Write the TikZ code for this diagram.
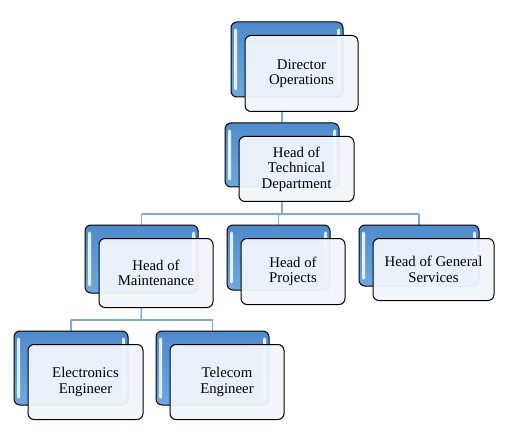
\documentclass[tikz,border=0pt]{standalone}
\usepackage{fontspec}
\setmainfont{Liberation Serif}
\usetikzlibrary{calc}
\definecolor{bluetop}{HTML}{4F8BCB}
\definecolor{bluebot}{HTML}{6FA8DF}
\definecolor{hlcol}{HTML}{E2EFFC}
\definecolor{wfill}{HTML}{F1F5FB}
\definecolor{conncol}{HTML}{7BAADD}
\pgfdeclarelayer{background}
\pgfsetlayers{background,main}
\tikzset{
  bluebox/.style={rectangle, rounded corners=6pt, draw=black, line width=1pt,
    top color=bluetop, bottom color=bluebot, inner sep=0pt},
  whitebox/.style={rectangle, rounded corners=6pt, draw=black, line width=1pt,
    fill=wfill, fill opacity=0.95, text opacity=1, inner sep=0pt, align=center,
    font=\fontsize{14.8}{15.5}\selectfont},
  hl/.style={fill=hlcol, rounded corners=1.5pt},
  conn/.style={draw=conncol, line width=1.5pt}
}
\newcommand{\orgunit}[6]{%
  \node[bluebox, minimum width={(#4-#2)*1pt}, minimum height={(#5-#3)*1pt}] (#1B) at ({(#2+#4)/2},{(#3+#5)/2}) {};
  \fill[hl] ([xshift=3.5pt,yshift=-7pt]#1B.north west) rectangle ([xshift=6.5pt,yshift=7pt]#1B.south west);
  \fill[hl] ([xshift=-6.5pt,yshift=-7pt]#1B.north east) rectangle ([xshift=-3.5pt,yshift=7pt]#1B.south east);
  \node[whitebox, minimum width={(#4-#2+1)*1pt}, minimum height={(#5-#3+1)*1pt}] (#1) at ({(#2+#4)/2+14.5},{(#3+#5)/2+14}) {#6};
}
\begin{document}
\begin{tikzpicture}[x=1pt,y=-1pt]
\useasboundingbox (0,0) rectangle (507,444);
\orgunit{dir}{231}{22}{343}{97}{Director\\Operations}
\orgunit{tech}{225}{123}{339}{187}{Head of\\Technical\\Department}
\orgunit{maint}{85}{225}{198}{293}{Head of\\Maintenance}
\orgunit{proj}{227}{225}{330}{290}{Head of\\Projects}
\orgunit{gen}{359}{225}{479}{286}{Head of General\\Services}
\orgunit{elec}{14}{331}{128}{405}{Electronics\\Engineer}
\orgunit{tel}{156}{331}{269}{405}{Telecom\\Engineer}
\coordinate (bus1) at (282,214);
\coordinate (bus2) at (141,320);
\begin{pgfonlayer}{background}
  \draw[conn] (techB.north |- dir.south) -- (techB.north);
  \draw[conn] (techB.north |- tech.south) -- (bus1);
  \draw[conn] (maintB.north |- bus1) -- (genB.north |- bus1);
  \draw[conn] (maintB.north |- bus1) -- (maintB.north);
  \draw[conn] (projB.north |- bus1) -- (projB.north);
  \draw[conn] (genB.north |- bus1) -- (genB.north);
  \draw[conn] (maintB.north |- maint.south) -- (bus2);
  \draw[conn] (elecB.north |- bus2) -- (telB.north |- bus2);
  \draw[conn] (elecB.north |- bus2) -- (elecB.north);
  \draw[conn] (telB.north |- bus2) -- (telB.north);
\end{pgfonlayer}
\end{tikzpicture}
\end{document}
